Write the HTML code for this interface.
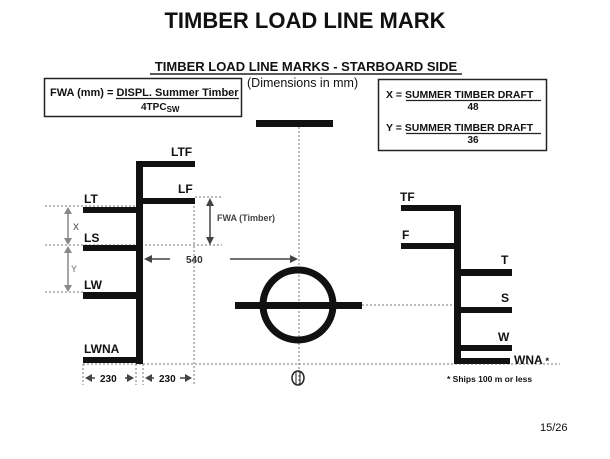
<!DOCTYPE html><html><head><style>body{margin:0;background:#fff}svg{display:block}text{font-family:"Liberation Sans",sans-serif;font-weight:bold;fill:#111}</style></head><body>
<svg width="610" height="459" viewBox="0 0 610 459">
<text x="305" y="28" font-size="22" text-anchor="middle">TIMBER LOAD LINE MARK</text>
<text x="306" y="71" font-size="13" text-anchor="middle">TIMBER LOAD LINE MARKS - STARBOARD SIDE</text>
<line x1="150" y1="74" x2="462" y2="74" stroke="#222" stroke-width="1.5"/>
<text x="247" y="87" font-size="12.5" font-weight="normal" style="font-weight:normal">(Dimensions in mm)</text>
<rect x="44.5" y="78.5" width="197" height="38" fill="none" stroke="#222" stroke-width="1.5"/>
<text x="50" y="96" font-size="11">FWA (mm) = DISPL. Summer Timber</text>
<line x1="116" y1="98.5" x2="239" y2="98.5" stroke="#222" stroke-width="1.2"/>
<text x="141" y="110" font-size="10">4TPC<tspan font-size="8" dy="2">SW</tspan></text>
<rect x="378.5" y="79.5" width="168" height="71" fill="none" stroke="#222" stroke-width="1.5"/>
<text x="386" y="98" font-size="10.5">X = SUMMER TIMBER DRAFT</text>
<line x1="406" y1="100.5" x2="541" y2="100.5" stroke="#222" stroke-width="1.2"/>
<text x="473" y="110" font-size="10" text-anchor="middle">48</text>
<text x="386" y="131" font-size="10.5">Y = SUMMER TIMBER DRAFT</text>
<line x1="406" y1="133.5" x2="541" y2="133.5" stroke="#222" stroke-width="1.2"/>
<text x="473" y="143" font-size="10" text-anchor="middle">36</text>
<g stroke="#777" stroke-width="1" stroke-dasharray="2,2" fill="none">
<line x1="45" y1="206" x2="136" y2="206"/><line x1="195" y1="197" x2="222" y2="197"/>
<line x1="45" y1="245" x2="222" y2="245"/><line x1="45" y1="292" x2="83" y2="292"/>
<line x1="83" y1="364" x2="560" y2="364"/><line x1="362" y1="305" x2="455" y2="305"/>
<line x1="83" y1="364" x2="83" y2="385"/><line x1="136" y1="364" x2="136" y2="385"/>
<line x1="143" y1="364" x2="143" y2="385"/><line x1="194" y1="198" x2="194" y2="385"/>
<line x1="299" y1="127" x2="299" y2="385"/>
</g>
<g fill="#111">
<rect x="136" y="161" width="7" height="203"/>
<rect x="136" y="161" width="59" height="6"/><rect x="136" y="198" width="59" height="6"/>
<rect x="83" y="207" width="53" height="6"/><rect x="83" y="245" width="53" height="6"/>
<rect x="83" y="292" width="53" height="7"/><rect x="83" y="357" width="59" height="6"/>
<rect x="256" y="120" width="77" height="7"/>
<rect x="235" y="302" width="127" height="7"/>
<rect x="454" y="205" width="7" height="159"/>
<rect x="401" y="205" width="56" height="6"/><rect x="401" y="243" width="56" height="6"/>
<rect x="460" y="269" width="52" height="7"/><rect x="460" y="307" width="52" height="6"/>
<rect x="460" y="345" width="52" height="6"/><rect x="460" y="358" width="50" height="6"/>
</g>
<circle cx="298" cy="305" r="35" fill="none" stroke="#111" stroke-width="7"/>
<g font-size="12">
<text x="171" y="156">LTF</text><text x="178" y="193">LF</text><text x="84" y="203">LT</text>
<text x="84" y="242">LS</text><text x="84" y="289">LW</text><text x="84" y="353">LWNA</text>
<text x="400" y="201">TF</text><text x="402" y="239">F</text><text x="501" y="264">T</text>
<text x="501" y="302">S</text><text x="498" y="341">W</text><text x="514" y="364">WNA <tspan font-size="9">*</tspan></text>
</g>
<text x="447" y="382" font-size="8.5">* Ships 100 m or less</text>
<g stroke="#888" stroke-width="1.5" fill="#888">
<line x1="68" y1="210" x2="68" y2="242"/><path d="M64,214 L68,207 L72,214Z M64,238 L68,245 L72,238Z" stroke="none"/>
<line x1="68" y1="249" x2="68" y2="289"/><path d="M64,253 L68,246 L72,253Z M64,285 L68,292 L72,285Z" stroke="none"/>
</g>
<text x="73" y="230" font-size="9" fill="#777" style="fill:#777">X</text>
<text x="71" y="272" font-size="9" style="fill:#999">Y</text>
<g stroke="#444" stroke-width="1.5" fill="#444">
<line x1="210" y1="202" x2="210" y2="241"/><path d="M206,206 L210,198 L214,206Z M206,237 L210,245 L214,237Z" stroke="none"/>
<line x1="148" y1="259" x2="170" y2="259"/><line x1="230" y1="259" x2="294" y2="259"/>
<path d="M152,255 L144,259 L152,263Z M290,255 L298,259 L290,263Z" stroke="none"/>
<line x1="88" y1="378" x2="95" y2="378"/><line x1="125" y1="378" x2="132" y2="378"/>
<path d="M92,374 L85,378 L92,382Z M127,374 L134,378 L127,382Z" stroke="none"/>
<line x1="147" y1="378" x2="154" y2="378"/><line x1="180" y1="378" x2="188" y2="378"/>
<path d="M152,374 L145,378 L152,382Z M185,374 L192,378 L185,382Z" stroke="none"/>
</g>
<text x="217" y="221" font-size="9" style="fill:#444">FWA (Timber)</text>
<text x="186" y="263" font-size="10" style="fill:#333">540</text>
<text x="100" y="382" font-size="10">230</text><text x="159" y="382" font-size="10">230</text>
<ellipse cx="298" cy="378" rx="6" ry="7" fill="none" stroke="#222" stroke-width="1.5"/>
<line x1="296" y1="372" x2="296" y2="384" stroke="#222"/><line x1="300" y1="372" x2="300" y2="384" stroke="#222"/>
<text x="540" y="431" font-size="11" style="font-weight:normal">15/26</text>
</svg></body></html>
